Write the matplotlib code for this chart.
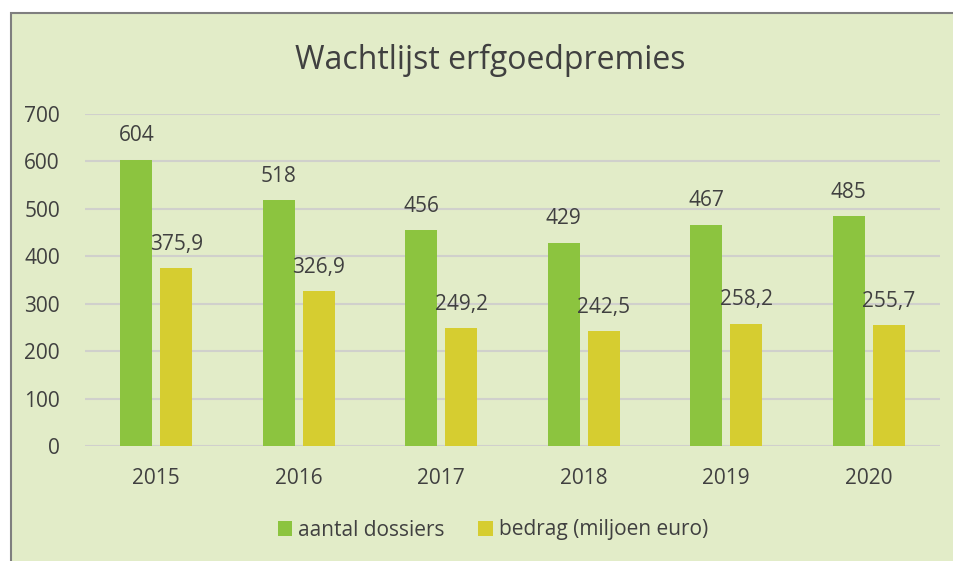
import matplotlib
matplotlib.use("Agg")
import matplotlib.pyplot as plt
from matplotlib.patches import Rectangle
import numpy as np

years = ["2015", "2016", "2017", "2018", "2019", "2020"]
dossiers = [604, 518, 456, 429, 467, 485]
bedrag = [375.9, 326.9, 249.2, 242.5, 258.2, 255.7]
bedrag_labels = ["375,9", "326,9", "249,2", "242,5", "258,2", "255,7"]
series_names = ["aantal dossiers", "bedrag (miljoen euro)"]
title = "Wachtlijst erfgoedpremies"

plt.rcParams['font.family'] = ['Open Sans', 'DejaVu Sans']
W, H = 954, 561
fig = plt.figure(figsize=(W/100, H/100), dpi=100, facecolor='white')

bg = '#E2ECC8'
frame = Rectangle((11/W, -0.05), 1.0, 1.05 - 13/H, transform=fig.transFigure,
                  facecolor=bg, edgecolor='#7F7F7F', linewidth=1.5, zorder=-10)
fig.patches.append(frame)

ax = fig.add_axes([85/W, 1 - 446/H, (940-85)/W, (446-114)/H])
ax.set_facecolor('none')
green = '#8CC43F'
yellow = '#D6CD30'
text_c = '#404040'

x = np.arange(len(years))
bw = 0.225
off = 0.14
b1 = ax.bar(x - off, dossiers, bw, color=green, label=series_names[0], zorder=3)
b2 = ax.bar(x + off, bedrag, bw, color=yellow, label=series_names[1], zorder=3)

fs = 15
for xi, v in zip(x, dossiers):
    ax.annotate(str(v), (xi - off, v), xytext=(0, 13), textcoords='offset points',
                ha='center', va='baseline', fontsize=fs, color=text_c)
for xi, v, s in zip(x, bedrag, bedrag_labels):
    ax.annotate(s, (xi + off, v), xytext=(0, 13), textcoords='offset points',
                ha='center', va='baseline', fontsize=fs, color=text_c)

ax.set_xlim(-0.5, len(years) - 0.5)
ax.set_ylim(0, 700)
ax.set_yticks(range(0, 701, 100))
ax.set_xticks(x)
ax.set_xticklabels(years)
ax.tick_params(axis='both', length=0, labelsize=fs, labelcolor=text_c)
ax.tick_params(axis='y', pad=18)
ax.tick_params(axis='x', pad=16)
ax.grid(axis='y', color='#D0D0CC', linewidth=1.5, zorder=0)
ax.set_axisbelow(True)
for s in ax.spines.values():
    s.set_visible(False)

fig.text(490/W, 1 - 60/H, title, ha='center', va='center', fontsize=23, color=text_c)

leg = fig.legend(handles=[b1, b2], labels=series_names, loc='center', bbox_to_anchor=(493/W, 1 - 530/H),
                 ncol=2, frameon=False, fontsize=fs, handlelength=0.7, handleheight=0.7,
                 handletextpad=0.3, columnspacing=1.6, labelcolor=text_c)

fig.savefig('out.png', dpi=100, facecolor='white')
